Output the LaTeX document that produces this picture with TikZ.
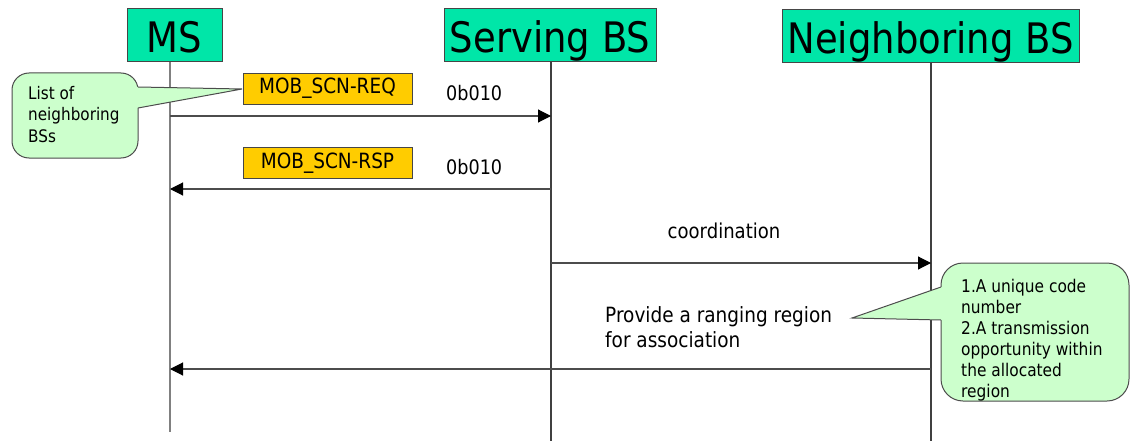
\documentclass[tikz,border=0pt]{standalone}
\usepackage{fontspec}
\setmainfont{DejaVu Sans}[FakeStretch=0.88]
\usetikzlibrary{arrows.meta}
\definecolor{hdr}{RGB}{0,230,168}
\definecolor{msg}{RGB}{255,204,0}
\definecolor{note}{RGB}{204,255,204}
\definecolor{edge}{RGB}{70,70,70}
\tikzset{
  hdrbox/.style={draw=edge, line width=1pt, fill=hdr, inner sep=0pt, minimum height=53pt,
    text height=35pt, text depth=0pt, font=\fontsize{42}{42}\selectfont},
  msgbox/.style={draw=edge, line width=0.8pt, fill=msg, inner sep=0pt, minimum width=169pt,
    minimum height=31pt, font=\fontsize{21}{21}\selectfont},
  lifeline/.style={line width=1.1pt, draw=black!75},
  msgarrow/.style={line width=1.1pt, draw=black!70, -{Triangle[length=13pt,width=13pt,color=black]}},
  notebox/.style={draw=black!70, line width=1pt, fill=note},
  lbl/.style={inner sep=0pt}
}
\begin{document}
\begin{tikzpicture}[x=1pt,y=-1pt]
\useasboundingbox (0,0) rectangle (1131,441);
% headers
\node[hdrbox, minimum width=95pt] (ms) at (174.5,35.5) {MS};
\node[hdrbox, minimum width=212pt] (sbs) at (550,35.5) {Serving BS};
\node[hdrbox, minimum width=297pt] (nbs) at (930.5,36) {Neighboring BS};
% lifeline ends
\coordinate (msend) at (170,432);
\coordinate (sbsend) at (551,441);
\coordinate (nbsend) at (931,441);
\draw[lifeline, draw=black!50, line width=1.4pt] (ms.south -| msend) -- (msend);
\draw[lifeline] (sbs.south -| sbsend) -- (sbsend);
\draw[lifeline] (nbs.south -| nbsend) -- (nbsend);
% message points
\coordinate (m1a) at (170,116); \coordinate (m1b) at (551,116);
\coordinate (m2a) at (551,189); \coordinate (m2b) at (170,189);
\coordinate (m3a) at (551,263); \coordinate (m3b) at (931,263);
\coordinate (m4a) at (931,369); \coordinate (m4b) at (170,369);
\draw[msgarrow] (m1a) -- (m1b);
\draw[msgarrow] (m2a) -- (m2b);
\draw[msgarrow] (m3a) -- (m3b);
\draw[msgarrow] (m4a) -- (m4b);
% message boxes and labels
\node[msgbox] (req) at (327.5,88.5) {MOB\_SCN-REQ};
\node[msgbox] (rsp) at (327.5,163) {MOB\_SCN-RSP};
\node[lbl, anchor=base west, font=\fontsize{20}{20}\selectfont] (c1) at (446,100) {0b010};
\node[lbl, anchor=base west, font=\fontsize{20}{20}\selectfont] (c2) at (446,174) {0b010};
\node[lbl, anchor=base, font=\fontsize{20.5}{20.5}\selectfont] (coord) at (724,238) {coordination};
\node[lbl, anchor=north west, align=left, font=\fontsize{21}{25}\selectfont] (prov) at (605,306) {Provide a ranging region\\for association};
% callout 1
\draw[notebox, rounded corners=17pt] (12,73) rectangle (138,158);
\fill[note] (242,89) -- (138,108) -- (135,108) -- (135,87) -- (138,87) -- cycle;
\draw[draw=black!70, line width=1pt] (138,87) -- (242,89) -- (138,108);
\node[lbl, anchor=north west, align=left, font=\fontsize{17.3}{21.5}\selectfont] (n1) at (28,86) {List of\\neighboring\\BSs};
% callout 2
\draw[notebox, rounded corners=22pt] (941,263) rectangle (1129,401);
\fill[note] (852,318) -- (941,320) -- (945,320) -- (945,287) -- (941,287) -- cycle;
\draw[draw=black!70, line width=1pt] (941,287) -- (852,318) -- (941,320);
\node[lbl, anchor=north west, align=left, font=\fontsize{17.5}{21}\selectfont] (n2) at (961,279) {1.A unique code\\number\\2.A transmission\\opportunity within\\the allocated\\region};
\end{tikzpicture}
\end{document}
